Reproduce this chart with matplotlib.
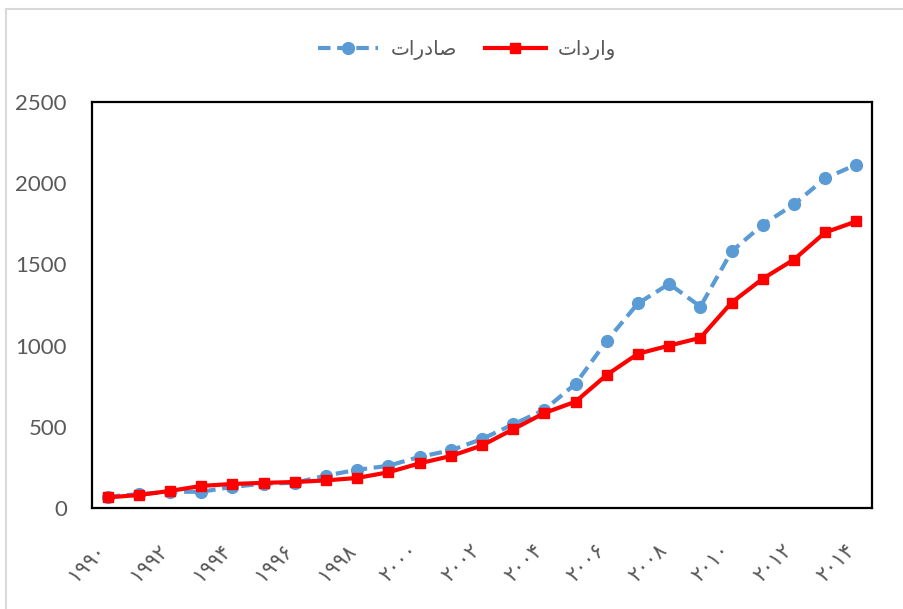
import matplotlib.pyplot as plt
from matplotlib.lines import Line2D
from matplotlib.transforms import ScaledTranslation

years = list(range(1990, 2015))
exports = [70, 85, 100, 100, 130, 150, 155, 200, 235, 260, 315, 355, 425, 515,
           605, 765, 1030, 1260, 1380, 1240, 1580, 1745, 1870, 2030, 2115]
imports = [65, 80, 105, 136, 148, 155, 160, 170, 185, 220, 275, 320, 385, 485,
           585, 655, 820, 950, 1000, 1048, 1265, 1412, 1530, 1697, 1765]

tick_years = list(range(1990, 2015, 2))
# Persian digits for the year labels
fa_digits = str.maketrans("0123456789", "۰۱۲۳۴۵۶۷۸۹")
tick_labels = [str(y).translate(fa_digits) for y in tick_years]

# legend names, written in shaped presentation forms (visual order)
label_exports = "\uFE95\uFE8D\uFEAD\uFEA9\uFE8E\uFEBB"  # صادرات
label_imports = "\uFE95\uFE8D\uFEA9\uFEAD\uFE8D\uFEED"  # واردات

gray = "#595959"

fig = plt.figure(figsize=(9.04, 6.09), dpi=100)
ax = fig.add_axes([92 / 904, 1 - 508 / 609, (872 - 92) / 904, (508 - 102) / 609])

# outer chart border
fig.add_artist(Line2D([6 / 904, 6 / 904], [0, 1 - 9 / 609], transform=fig.transFigure,
                      color="#D9D9D9", lw=1.5))
fig.add_artist(Line2D([6 / 904, 1], [1 - 9 / 609, 1 - 9 / 609], transform=fig.transFigure,
                      color="#D9D9D9", lw=1.5))

ax.plot(years, exports, color="#5B9BD5", lw=3, ls=(0, (3, 1.6)), marker="o",
        markersize=8.5, label=label_exports, zorder=3)
ax.plot(years, imports, color="#FF0000", lw=3, marker="s", markersize=7.5,
        label=label_imports, zorder=4)

ax.set_xlim(1989.5, 2014.5)
ax.set_ylim(0, 2500)
ax.set_yticks([0, 500, 1000, 1500, 2000, 2500])
ax.set_xticks(tick_years)
ax.set_xticklabels(tick_labels, rotation=45, ha="right", va="center",
                   rotation_mode="anchor", fontsize=15, color=gray,
                   family="DejaVu Sans")
ax.tick_params(axis="x", length=0, pad=28)
ax.tick_params(axis="y", length=0, pad=18, labelsize=16, labelcolor=gray)
for lbl in ax.get_yticklabels():
    lbl.set_family("Lato")

# nudge year labels slightly left of their tick
shift = ScaledTranslation(-5 / 100, 0, fig.dpi_scale_trans)
for lbl in ax.get_xticklabels():
    lbl.set_transform(lbl.get_transform() + shift)

for side in ax.spines.values():
    side.set_color("black")
    side.set_linewidth(1.6)

ax.legend(loc="center", bbox_to_anchor=(467 / 904, 1 - 50 / 609),
          bbox_transform=fig.transFigure, ncol=2, frameon=False,
          prop={"family": "DejaVu Sans", "size": 14.5}, labelcolor=gray,
          handlelength=3.0, columnspacing=1.4, handletextpad=0.6)

plt.savefig("out.png", dpi=100)
plt.close()
